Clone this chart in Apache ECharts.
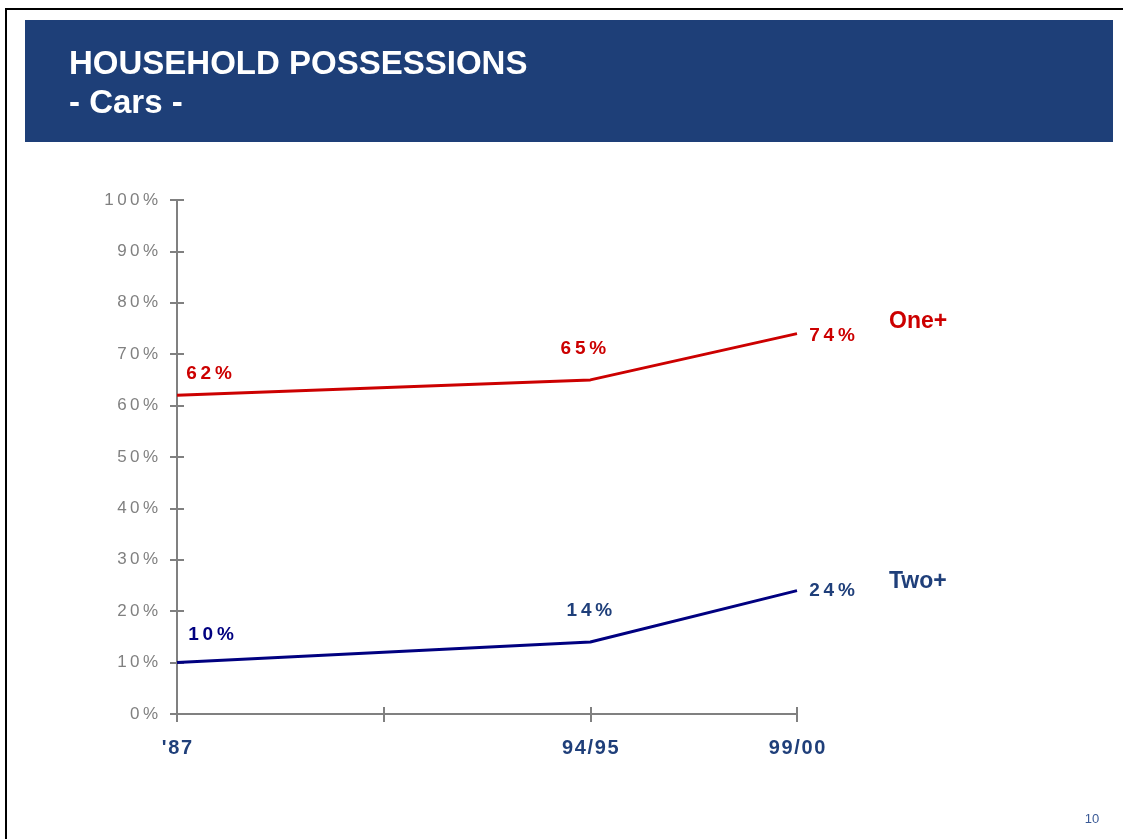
<!DOCTYPE html>
<html>
<head>
<meta charset="utf-8">
<script src="https://cdn.jsdelivr.net/npm/echarts@6/dist/echarts.min.js"></script>
<style>
  html, body { margin: 0; padding: 0; background: #ffffff; }
  #chart { width: 1123px; height: 839px; }
</style>
</head>
<body>
<div id="chart"></div>
<script>
// Survey periods (the blank slot keeps the gap between '87 and 94/95)
const periods = ["'87", "", "94/95", "99/00"];
// Share of households owning cars, in percent
const onePlus = [62, null, 65, 74];
const twoPlus = [10, null, 14, 24];
const seriesNames = ["One+", "Two+"];
const pageNumber = "10";

// Label placement relative to each point
const oneLabelOffsets = [[32, -22], null, [-7, -31], [35, 2]];
const twoLabelOffsets = [[34, -28], null, [-1, -31], [35, 0]];

const FONT = "'Liberation Sans', Arial, sans-serif";
const RED = '#cc0000';
const NAVY = '#000080';
const SLATE = '#1f3f7a';
const GREY = '#808080';
const CLEAR = 'rgba(0,0,0,0)';

// widen the tracking of short labels
const spaced = (s, gap) => String(s).split('').join(gap || '\u2009');

function buildData(values, offsets, colors) {
  return values.map((v, i) => {
    if (v === null) return '-';
    return {
      value: v,
      label: { offset: offsets[i], color: colors[i] }
    };
  });
}

const chart = echarts.init(document.getElementById('chart'), null, { renderer: 'canvas' });

const labelBase = {
  show: true,
  position: 'inside',
  fontFamily: FONT,
  fontSize: 19,
  fontWeight: 'bold',
  formatter: p => spaced(p.value + '%')
};

const endLabelBase = {
  show: true,
  formatter: '{a}',
  distance: 0,
  fontFamily: FONT,
  fontSize: 23,
  fontWeight: 'bold'
};

chart.setOption({
  animation: false,
  backgroundColor: '#ffffff',
  textStyle: { fontFamily: FONT },
  title: {
    text: 'HOUSEHOLD POSSESSIONS\n- Cars -',
    left: 64,
    top: 41,
    textStyle: {
      color: '#ffffff',
      fontFamily: FONT,
      fontSize: 33,
      fontWeight: 'bold',
      lineHeight: 38.5
    }
  },
  graphic: [
    {
      type: 'rect', z: -10, silent: true,
      shape: { x: 6, y: 9, width: 1140, height: 850 },
      style: { fill: 'none', stroke: '#000000', lineWidth: 2 }
    },
    {
      type: 'rect', z: -5, silent: true,
      shape: { x: 25, y: 20, width: 1088, height: 122 },
      style: { fill: '#1e3f78' }
    },
    {
      type: 'text', silent: true,
      x: 1092, y: 819,
      style: {
        text: pageNumber, fill: '#3b5a96', font: '13px ' + FONT,
        textAlign: 'center', textVerticalAlign: 'middle'
      }
    }
  ],
  grid: { left: 177, right: 326, top: 200, bottom: 125, containLabel: false },
  xAxis: [
    {
      type: 'category',
      data: periods,
      boundaryGap: false,
      axisLine: { lineStyle: { color: GREY, width: 2 } },
      axisTick: { show: true, length: 8, lineStyle: { color: GREY, width: 2 } },
      axisLabel: {
        margin: 24,
        color: SLATE,
        fontFamily: FONT,
        fontSize: 20,
        fontWeight: 'bold',
        formatter: v => spaced(v, '\u200a')
      },
      splitLine: { show: false }
    },
    {
      type: 'category',
      data: periods,
      boundaryGap: false,
      position: 'bottom',
      axisLine: { show: false },
      axisTick: { show: true, inside: true, length: 7, lineStyle: { color: GREY, width: 2 } },
      axisLabel: { show: false },
      splitLine: { show: false }
    }
  ],
  yAxis: [
    {
      type: 'value',
      min: 0, max: 100, interval: 10,
      axisLine: { show: true, lineStyle: { color: GREY, width: 2 } },
      axisTick: { show: true, length: 7, lineStyle: { color: GREY, width: 2 } },
      axisLabel: {
        margin: 19,
        color: GREY,
        fontFamily: FONT,
        fontSize: 17,
        formatter: v => spaced(v + '%')
      },
      splitLine: { show: false }
    },
    {
      type: 'value',
      min: 0, max: 100, interval: 10,
      position: 'left',
      axisLine: { show: false },
      axisTick: { show: true, inside: true, length: 7, lineStyle: { color: GREY, width: 2 } },
      axisLabel: { show: false },
      splitLine: { show: false }
    }
  ],
  series: [
    {
      name: seriesNames[0],
      type: 'line',
      connectNulls: true,
      symbol: 'circle',
      symbolSize: 1,
      showSymbol: true,
      itemStyle: { color: CLEAR },
      lineStyle: { color: RED, width: 3 },
      label: Object.assign({}, labelBase, { color: RED }),
      endLabel: Object.assign({}, endLabelBase, { offset: [92, -12], color: RED }),
      data: buildData(onePlus, oneLabelOffsets, [RED, RED, RED, RED])
    },
    {
      name: seriesNames[1],
      type: 'line',
      connectNulls: true,
      symbol: 'circle',
      symbolSize: 1,
      showSymbol: true,
      itemStyle: { color: CLEAR },
      lineStyle: { color: NAVY, width: 3 },
      label: Object.assign({}, labelBase, { color: SLATE }),
      endLabel: Object.assign({}, endLabelBase, { offset: [92, -9], color: SLATE }),
      data: buildData(twoPlus, twoLabelOffsets, [NAVY, NAVY, SLATE, SLATE])
    }
  ]
});
</script>
</body>
</html>
